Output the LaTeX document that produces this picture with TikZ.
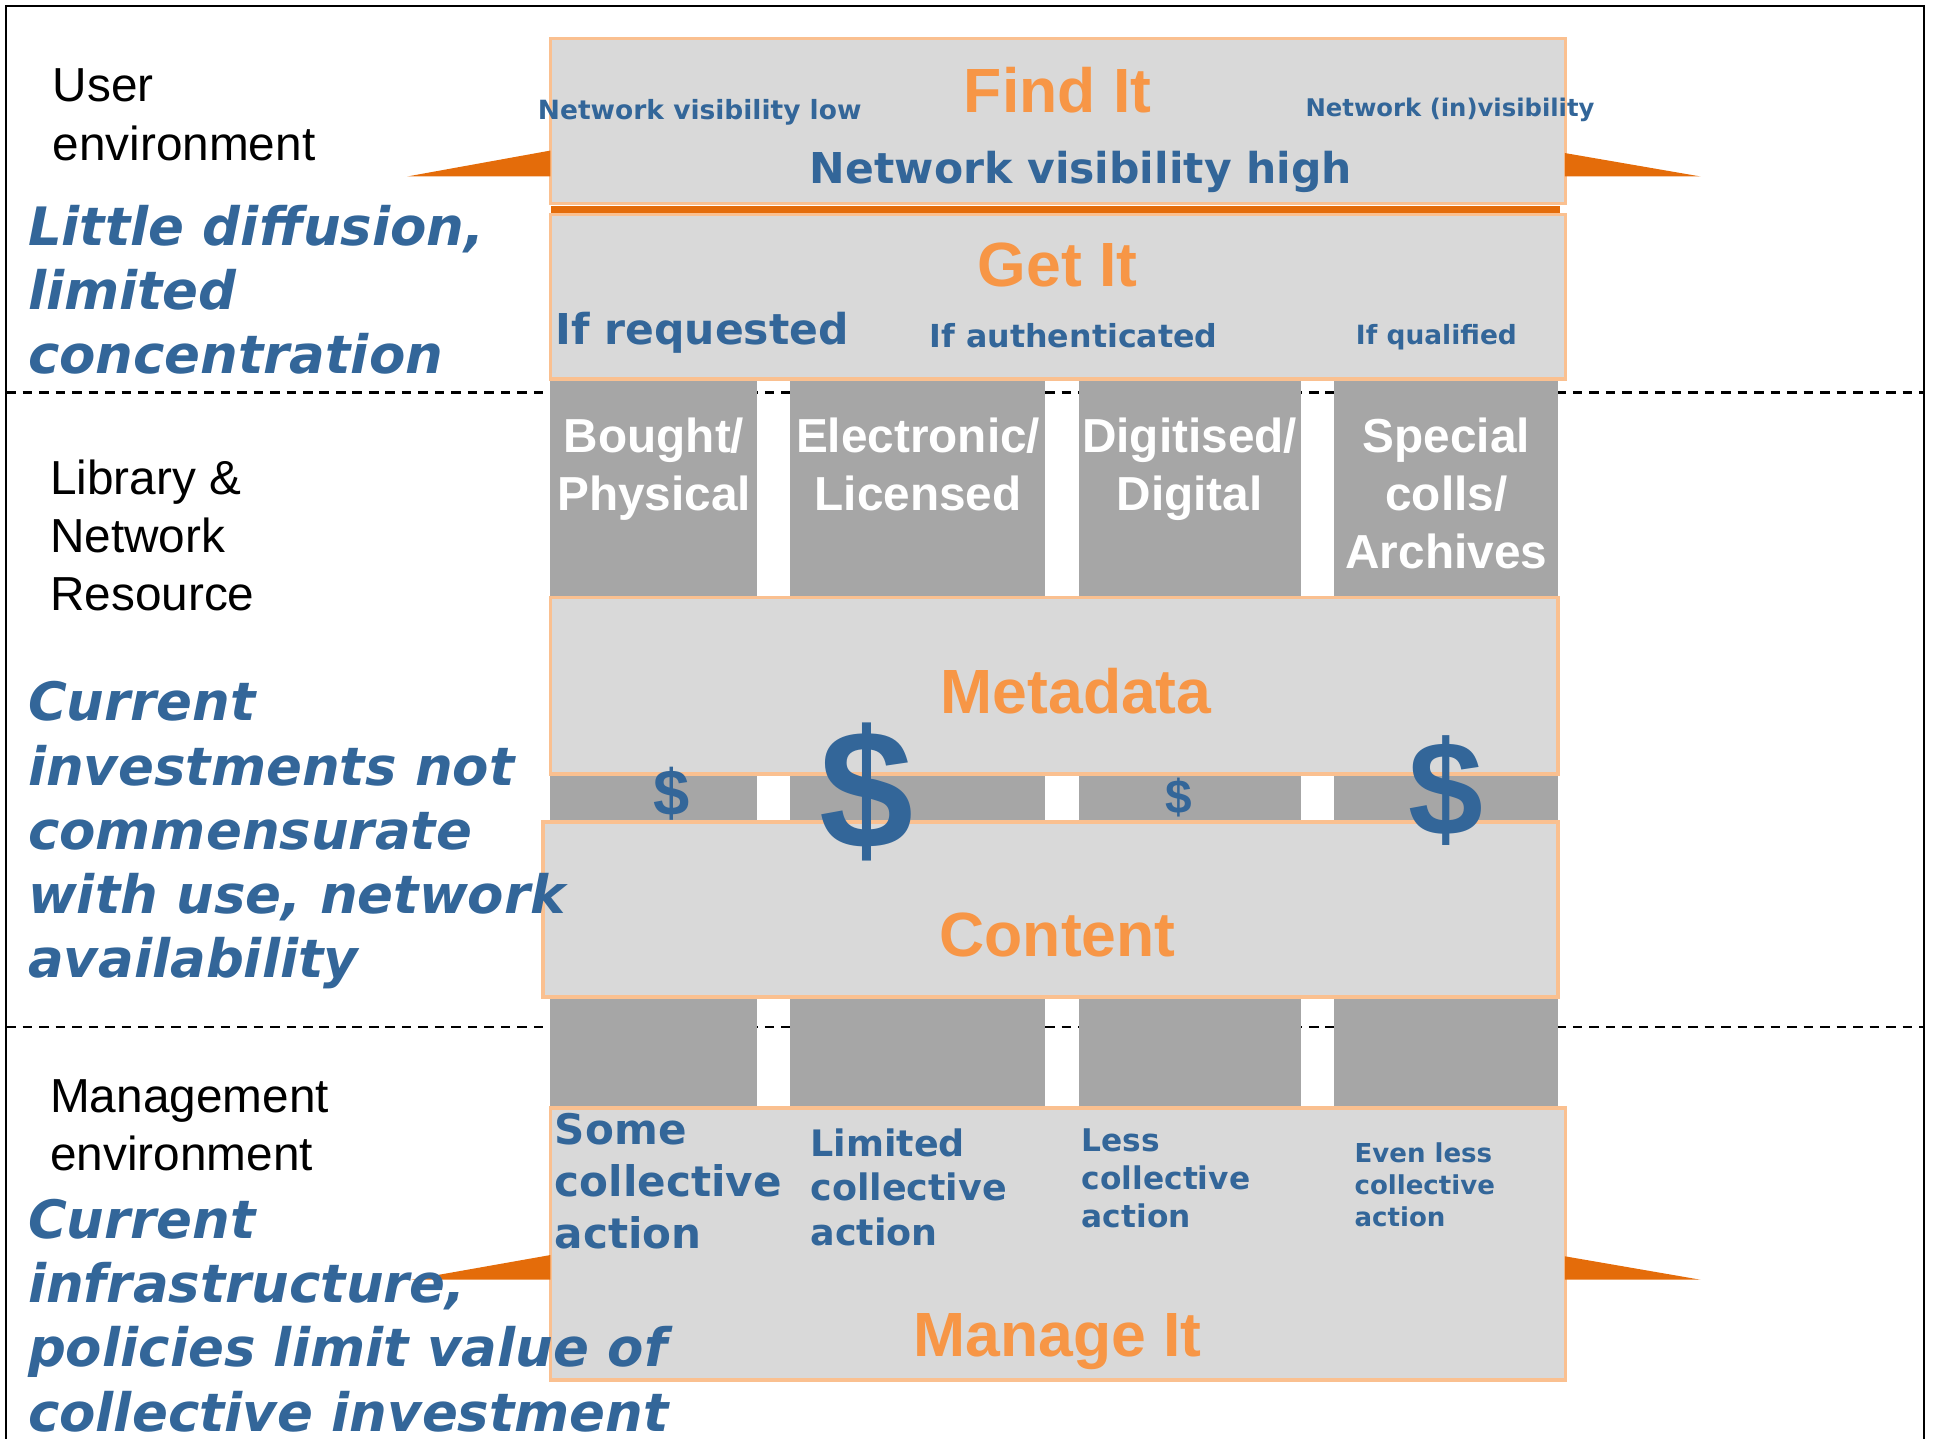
\documentclass[tikz,border=0pt]{standalone}
\usepackage{fontspec}
\setmainfont{Liberation Sans}
\newfontfamily\verd{DejaVu Sans}
\usepackage{tikz}
\usetikzlibrary{positioning}
\definecolor{titleorange}{HTML}{F79646}
\definecolor{barorange}{HTML}{E46C0A}
\definecolor{boxgray}{HTML}{D9D9D9}
\definecolor{colgray}{HTML}{A6A6A6}
\definecolor{edgeorange}{HTML}{FAC090}
\definecolor{textblue}{HTML}{336699}
\newcommand{\fsz}[2]{\fontsize{#1}{#2}\selectfont}
\tikzstyle{layer} = [draw=edgeorange, line width=0.8pt, fill=boxgray, anchor=north west, inner sep=0pt, outer sep=0pt]
\tikzstyle{column} = [fill=colgray, anchor=north west, inner sep=0pt, outer sep=0pt, minimum height=5.9cm]
\tikzstyle{title} = [text=titleorange, inner sep=0pt, font=\bfseries\fsz{14.4}{17}]
\tikzstyle{colname} = [text=white, anchor=north, inner sep=0pt, align=center, font=\bfseries\fsz{11}{13.4}]
\tikzstyle{side} = [anchor=west, align=left, inner sep=0pt, font=\fsz{11}{13.4}]
\tikzstyle{claim} = [anchor=west, align=left, inner sep=0pt, text=textblue, font=\verd\bfseries\itshape\fsz{12.2}{14.8}]
\tikzstyle{note} = [text=textblue, inner sep=0pt, align=left]
\tikzstyle{divider} = [dashed, line width=0.5pt, dash pattern=on 2.2pt off 1.6pt]

\begin{document}
\begin{tikzpicture}[x=0.01cm, y=-0.01cm]
\useasboundingbox (0, 0) rectangle (1568, 1166);
\draw [line width=0.5pt] (5, 1166) -- (5, 5) -- (1559, 5) -- (1559, 1166);
\draw [divider] (5, 318) -- (1559, 318);
\draw [divider] (5, 832) -- (1559, 832);

% resource columns
\node [column, minimum width=1.67cm] (c1) at (446, 308) {};
\node [column, minimum width=2.07cm] (c2) at (640, 308) {};
\node [column, minimum width=1.80cm] (c3) at (874, 308) {};
\node [column, minimum width=1.81cm] (c4) at (1081, 308) {};

% layers
\node [layer, minimum width=8.22cm, minimum height=1.34cm] (find) at (446, 31) {};
\node [fill=barorange, anchor=north west, inner sep=0pt, minimum width=8.17cm, minimum height=0.06cm] (bar) at (446, 166) {};
\node [layer, minimum width=8.22cm, minimum height=1.33cm] (get) at (446, 174) {};
\node [layer, minimum width=8.16cm, minimum height=1.43cm] (meta) at (446, 484) {};
\node [layer, minimum width=8.22cm, minimum height=1.42cm] (content) at (440, 666) {};
\node [layer, minimum width=8.22cm, minimum height=2.20cm] (manage) at (446, 898) {};

% orange wedges
\fill [barorange] (330, 143) -- (446, 122) -- (446, 143) -- cycle;
\fill [barorange] (1268, 124) -- (1378, 143) -- (1268, 143) -- cycle;
\fill [barorange] (333, 1037) -- (446, 1017) -- (446, 1037) -- cycle;
\fill [barorange] (1268, 1018) -- (1378, 1037) -- (1268, 1037) -- cycle;

% titles
\node [title] (tfind) at (857, 73) {Find It};
\node [title] (tget) at (857, 215) {Get It};
\node [title] (tmeta) at (872, 560) {Metadata};
\node [title] (tcontent) at (857, 758) {Content};
\node [title] (tmanage) at (857, 1087) {Manage It};

% visibility and access
\node [note, font=\verd\bfseries\fsz{6.1}{7}] (low) at (567, 91) {Network visibility low};
\node [note, font=\verd\bfseries\fsz{5.6}{7}] (invis) at (1175, 89) {Network (in)visibility};
\node [note, font=\verd\bfseries\fsz{9.8}{12}] (high) at (876, 139) {Network visibility high};
\node [note, font=\verd\bfseries\fsz{9.8}{12}] (req) at (569, 270) {If requested};
\node [note, font=\verd\bfseries\fsz{7.3}{9}] (auth) at (870, 272) {If authenticated};
\node [note, font=\verd\bfseries\fsz{6.1}{7}] (qual) at (1164, 273) {If qualified};

% column names
\node [colname] (n1) at (530, 338) {Bought/\\Physical};
\node [colname] (n2) at (744, 338) {Electronic/\\Licensed};
\node [colname] (n3) at (964, 338) {Digitised/\\Digital};
\node [colname] (n4) at (1172, 338) {Special\\colls/\\Archives};

% investment
\node [note, font=\bfseries\fsz{15}{17}] (s1) at (544, 643) {\$};
\node [note, font=\bfseries\fsz{39}{44}] (s2) at (702, 642) {\$};
\node [note, font=\bfseries\fsz{11}{13}] (s3) at (955, 646) {\$};
\node [note, font=\bfseries\fsz{31}{35}] (s4) at (1172, 641) {\$};

% collective action
\node [note, anchor=west, font=\verd\bfseries\fsz{9.7}{12}] (some) at (449, 957) {Some\\collective\\action};
\node [note, anchor=west, font=\verd\bfseries\fsz{8.4}{10.3}] (limited) at (656, 962) {Limited\\collective\\action};
\node [note, anchor=west, font=\verd\bfseries\fsz{7.2}{8.8}] (less) at (876, 955) {Less\\collective\\action};
\node [note, anchor=west, font=\verd\bfseries\fsz{6}{7.4}] (evenless) at (1097, 960) {Even less\\collective\\action};

% environments
\node [side] (user) at (42, 93) {User\\environment};
\node [side] (library) at (40, 434) {Library \&\\Network\\Resource};
\node [side] (mgmt) at (40, 912) {Management\\environment};

% commentary
\node [claim] (diff) at (22, 235) {Little diffusion,\\limited\\concentration};
\node [claim] (invest) at (22, 677) {Current\\investments not\\commensurate\\with use, network\\availability};
\node [claim] (infra) at (22, 1066) {Current\\infrastructure,\\policies limit value of\\collective investment};
\end{tikzpicture}
\end{document}
